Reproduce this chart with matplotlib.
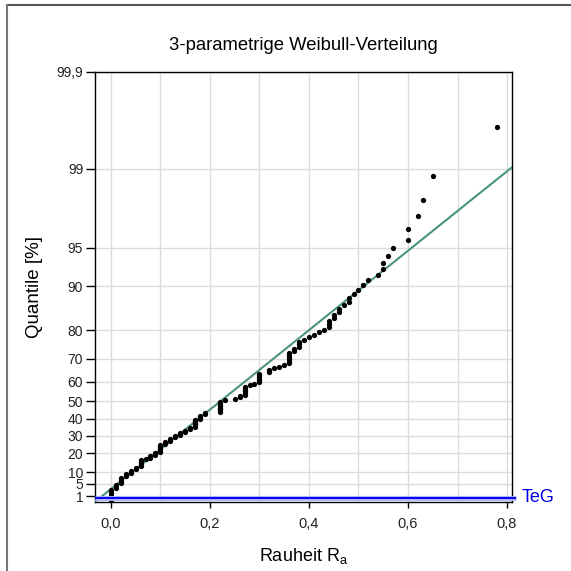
import numpy as np
import matplotlib
matplotlib.use('Agg')
from matplotlib import pyplot as plt
from matplotlib.lines import Line2D
from matplotlib.ticker import FixedLocator, MultipleLocator, NullFormatter

# Rauheit values (distinct values and how many ties each)
ra_values = [0.00, 0.01, 0.02, 0.03, 0.04, 0.05, 0.06, 0.07, 0.08, 0.09,
             0.10, 0.11, 0.12, 0.13, 0.14, 0.15, 0.16, 0.17, 0.18, 0.19,
             0.22, 0.23, 0.25, 0.26, 0.27, 0.28, 0.29, 0.30, 0.32, 0.33,
             0.34, 0.35, 0.36, 0.37, 0.38, 0.39, 0.40, 0.41, 0.42, 0.43,
             0.44, 0.45, 0.46, 0.47, 0.48, 0.49, 0.50, 0.51, 0.52, 0.54,
             0.55, 0.56, 0.57, 0.60, 0.62, 0.63, 0.65, 0.78]
ra_counts = [4, 2, 4, 2, 2, 2, 5, 1, 2, 2,
             6, 2, 3, 2, 2, 2, 2, 6, 3, 2,
             8, 1, 1, 2, 6, 1, 1, 6, 2, 1,
             1, 1, 6, 2, 3, 1, 1, 1, 1, 1,
             3, 2, 2, 1, 2, 1, 1, 1, 1, 1,
             2, 1, 1, 2, 1, 1, 1, 1]

# fitted 3-parameter Weibull (shape, location, scale)
beta = 1.6
t0 = -0.0368
eta = 0.3247
teg_level = 0.7  # percent

y_ticks = [1, 5, 10, 20, 30, 40, 50, 60, 70, 80, 90, 95, 99, 99.9]
y_tick_labels = ['1', '5', '10', '20', '30', '40', '50', '60', '70', '80',
                 '90', '95', '99', '99,9']
x_ticks = [0.0, 0.2, 0.4, 0.6, 0.8]
x_tick_labels = ['0,0', '0,2', '0,4', '0,6', '0,8']


def to_scale(p):
    p = np.clip(np.asarray(p, dtype=float), 1e-6, 99.99999)
    return (-np.log(1 - p / 100.0)) ** (1.0 / beta)


def from_scale(u):
    u = np.clip(np.asarray(u, dtype=float), 0, None)
    return 100.0 * (1 - np.exp(-u ** beta))


plt.rcParams['font.family'] = ['Liberation Sans', 'DejaVu Sans']

fig = plt.figure(figsize=(5.71, 5.71), dpi=100)
ax = fig.add_axes([95 / 571, 1 - 502 / 571, 417 / 571, 430 / 571])

# sorted sample with Hazen plotting positions
ra = np.repeat(ra_values, ra_counts)
n = len(ra)
ranks = np.arange(1, n + 1)
quantile = 100.0 * (ranks - 0.5) / n

ax.set_yscale('function', functions=(to_scale, from_scale))
ax.set_xlim(-0.032, 0.81)
ax.set_ylim(0.1, 99.9)

# fitted line
x_line = np.linspace(-0.032, 0.81, 200)
p_line = 100.0 * (1 - np.exp(-((x_line - t0) / eta) ** beta))
ax.plot(x_line, p_line, color='#4a9478', lw=1.5, zorder=3)

ax.plot(ra, quantile, 'o', color='black', ms=3.8, mew=0, zorder=4)

# TeG line
trans = ax.get_yaxis_transform()
ax.plot([0, 1.01], [teg_level, teg_level], transform=trans, color='#aeb4ff',
        lw=3.5, clip_on=False, zorder=5, solid_capstyle='butt')
ax.plot([0, 1.01], [teg_level, teg_level], transform=trans, color='#0000ee',
        lw=1.4, clip_on=False, zorder=6, solid_capstyle='butt')
ax.text(1.024, teg_level, 'TeG', transform=trans, color='#0000ee',
        fontsize=13, va='center', ha='left')

ax.yaxis.set_major_locator(FixedLocator(y_ticks))
ax.set_yticklabels(y_tick_labels)
ax.yaxis.set_minor_formatter(NullFormatter())
ax.yaxis.set_minor_locator(FixedLocator([]))
ax.set_xticks(x_ticks)
ax.set_xticklabels(x_tick_labels)
ax.xaxis.set_minor_locator(MultipleLocator(0.1))

ax.grid(True, which='both', color='#dcdcdc', lw=1, zorder=0)
ax.set_axisbelow(True)
ax.tick_params(axis='y', which='major', direction='out', length=6.5,
               width=1, labelsize=10, labelcolor='#222222', pad=2)
ax.tick_params(axis='x', which='major', direction='out', length=4.5,
               width=1, labelsize=10.5, labelcolor='#222222', pad=6)
ax.tick_params(axis='x', which='minor', length=0)
for s in ax.spines.values():
    s.set_linewidth(1)
    s.set_color('black')

ax.set_title('3-parametrige Weibull-Verteilung', fontsize=13.3, pad=16)
ax.set_ylabel('Quantile [%]', fontsize=13.5, labelpad=10)
ax.set_xlabel('Rauheit R$_\\mathregular{a}$', fontsize=13, labelpad=11)

# window frame, top and left edges
fig.add_artist(Line2D([7 / 571, 1], [1 - 5 / 571, 1 - 5 / 571],
                      transform=fig.transFigure, color='#555555', lw=1.5))
fig.add_artist(Line2D([7 / 571, 7 / 571], [0, 1 - 5 / 571],
                      transform=fig.transFigure, color='#777777', lw=1.5))

fig.savefig('out.png', dpi=100)
